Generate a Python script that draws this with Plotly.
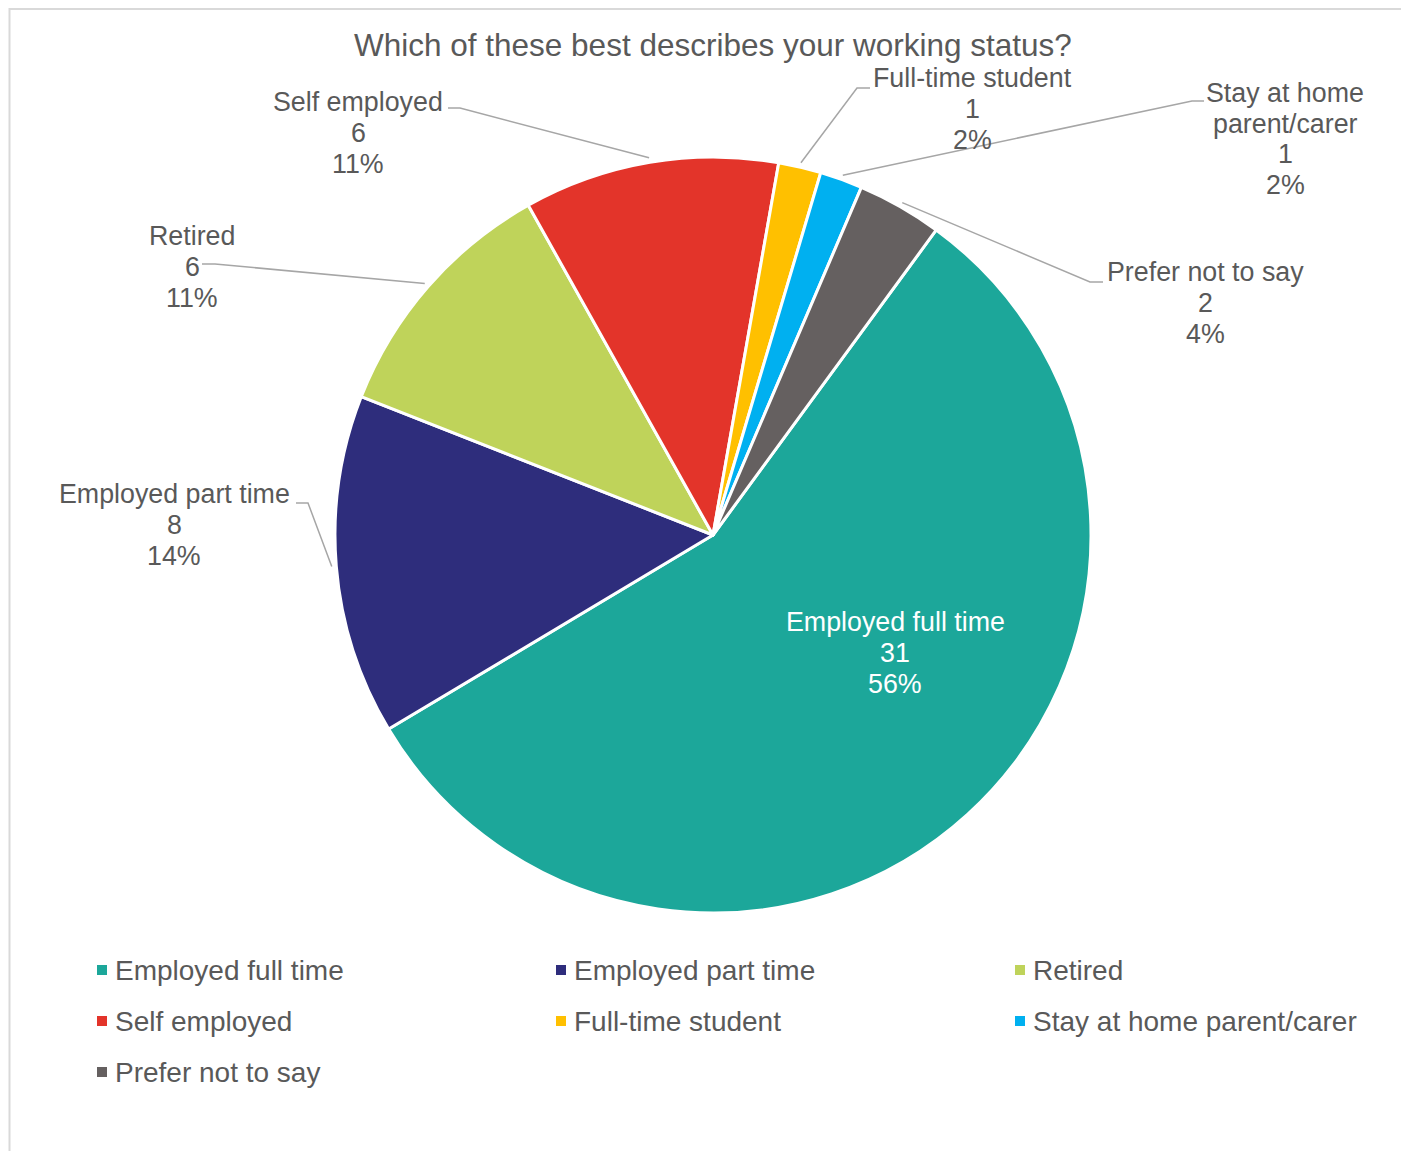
import math
import plotly.graph_objects as go

# ---------------- data ----------------
categories = ["Employed full time", "Employed part time", "Retired", "Self employed",
              "Full-time student", "Stay at home parent/carer", "Prefer not to say"]
counts = [31, 8, 6, 6, 1, 1, 2]
percent_labels = ["56%", "14%", "11%", "11%", "2%", "2%", "4%"]
label_name_lines = [["Employed full time"], ["Employed part time"], ["Retired"], ["Self employed"],
                    ["Full-time student"], ["Stay at home", "parent/carer"], ["Prefer not to say"]]
title_text = "Which of these best describes your working status?"

# ---------------- styles ----------------
colors = ["#1CA79A", "#2E2D7C", "#BFD35A", "#E3342A", "#FFC000", "#00B0F0", "#656060"]
FONT = "Liberation Sans, Arial, sans-serif"
TXT = "#595959"
LEADER = "#A6A6A6"

# ---------------- layout (page pixels) ----------------
PAGE_OFF = 8          # default body margin of the html page
W, H = 1401, 1143     # figure size
CX, CY, R = 713, 535, 378
ROTATION = 36.2
LINE_GAP = 30.7

# label block centre (x, y), elbow point, end of horizontal segment (None = inside label)
label_layout = [
    (895, 653, None, None),
    (174, 525, (308, 503), (296, 503)),
    (192, 267, (215, 264), (202, 264)),
    (358, 133, (460, 108), (448, 108)),
    (973, 109, (857, 88), (870, 88)),
    (1285, 139, (1192, 101), (1204, 101)),
    (1205, 303, (1090, 282), (1103, 282)),
]

LEG_COLS = [97, 556, 1015]
LEG_ROWS = [970, 1021, 1072]


def px(x):
    return (x - PAGE_OFF) / W


def py(y):
    return 1 - (y - PAGE_OFF) / H


fig = go.Figure(go.Pie(
    labels=categories,
    values=counts,
    sort=False,
    direction="clockwise",
    rotation=ROTATION,
    marker=dict(colors=colors, line=dict(color="white", width=3)),
    textinfo="none",
    hoverinfo="label+value+percent",
    showlegend=False,
    domain=dict(x=[px(CX - R), px(CX + R)], y=[py(CY + R), py(CY - R)]),
))

annotations = []
shapes = []

total = sum(counts)
cum = 0.0
for i, v in enumerate(counts):
    mid = ROTATION + (cum + v / 2) / total * 360.0
    cum += v
    a = math.radians(mid)
    lx, ly, elbow, end = label_layout[i]
    lines = label_name_lines[i] + [str(v), percent_labels[i]]
    n = len(lines)
    color = "white" if elbow is None else TXT
    for j, t in enumerate(lines):
        yy = ly + (j - (n - 1) / 2) * LINE_GAP
        annotations.append(dict(
            x=px(lx), y=py(yy), xref="paper", yref="paper", text=t, showarrow=False,
            xanchor="center", yanchor="middle",
            font=dict(family=FONT, size=26.8, color=color),
        ))
    if elbow is not None:
        sx = CX + R * 1.012 * math.sin(a)
        sy = CY - R * 1.012 * math.cos(a)
        path = "M {},{} L {},{} L {},{}".format(px(sx), py(sy), px(elbow[0]), py(elbow[1]),
                                                 px(end[0]), py(end[1]))
        shapes.append(dict(type="path", xref="paper", yref="paper", path=path,
                           line=dict(color=LEADER, width=1.5)))

# manual legend (3 columns, row-major)
for i, name in enumerate(categories):
    r, c = divmod(i, 3)
    x0 = LEG_COLS[c]
    y0 = LEG_ROWS[r]
    shapes.append(dict(type="rect", xref="paper", yref="paper",
                       x0=px(x0), x1=px(x0 + 10), y0=py(y0 - 5), y1=py(y0 + 5),
                       fillcolor=colors[i], line=dict(width=0)))
    annotations.append(dict(
        x=px(x0 + 16), y=py(y0), xref="paper", yref="paper", text=name, showarrow=False,
        xanchor="left", yanchor="middle",
        font=dict(family=FONT, size=28, color=TXT),
    ))

# chart-area border
shapes.append(dict(type="rect", xref="paper", yref="paper",
                   x0=px(9.5), x1=px(1440), y0=py(1180), y1=py(9),
                   line=dict(color="#D9D9D9", width=2), fillcolor="rgba(0,0,0,0)", layer="below"))

annotations.append(dict(
    x=px(713), y=py(45), xref="paper", yref="paper", text=title_text, showarrow=False,
    xanchor="center", yanchor="middle",
    font=dict(family=FONT, size=31.5, color=TXT),
))

fig.update_layout(
    width=W, height=H,
    margin=dict(l=0, r=0, t=0, b=0),
    paper_bgcolor="white",
    plot_bgcolor="white",
    annotations=annotations,
    shapes=shapes,
    showlegend=False,
)

fig.write_html("out.html")
